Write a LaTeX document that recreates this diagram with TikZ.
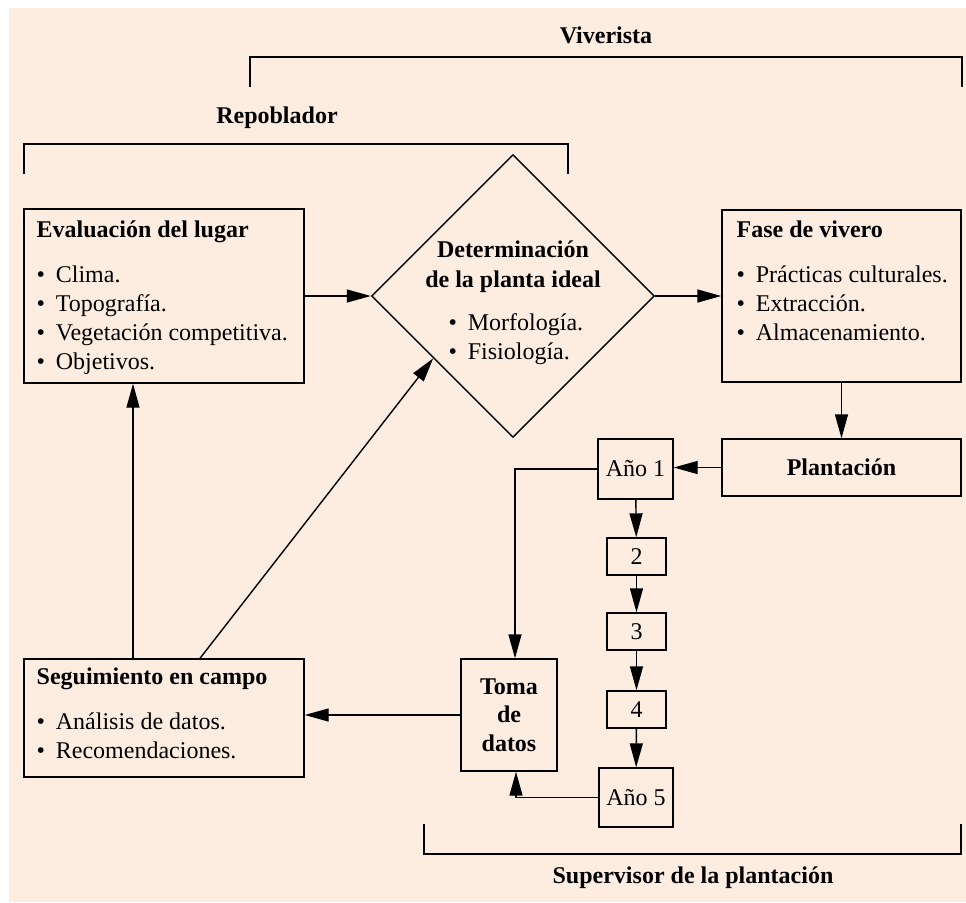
\documentclass[tikz,border=0pt]{standalone}
\usepackage{fontspec}
\setmainfont{Liberation Serif}
\usetikzlibrary{arrows.meta,shapes.geometric}
\definecolor{fondo}{RGB}{253,237,224}
\newcommand{\bul}{\textbullet\hspace{0.45em}}
\tikzset{every node/.style={font=\fontsize{12}{14.5}\selectfont,inner sep=0pt},
  caja/.style={draw,line width=0.7pt},
  flecha/.style={-{Triangle[length=12pt,width=6.5pt]}},
  texto/.style={anchor=base west,align=left},
  titulo/.style={anchor=base,font=\fontsize{12}{14.5}\selectfont\bfseries}}

\begin{document}
\begin{tikzpicture}[x=0.5pt,y=-0.5pt,line width=0.7pt]
  \useasboundingbox (0,0) rectangle (966,902);
  \fill[fondo] (9,8) rectangle (966,902);

  \node[caja,minimum width=140pt,minimum height=87pt] (eval) at (164,296) {};
  \node[caja,shape=diamond,aspect=1,minimum size=141.5pt] (diam) at (513,296) {};
  \node[caja,minimum width=119.5pt,minimum height=86pt] (fase) at (841.5,296) {};
  \node[caja,minimum width=119.5pt,minimum height=28.5pt,font=\fontsize{12}{14.5}\selectfont\bfseries] (plant) at (841.5,467.5) {Plantación};
  \node[caja,minimum width=37.5pt,minimum height=30pt] (a1) at (635.5,469) {Año 1};
  \node[caja,minimum width=29.5pt,minimum height=18.5pt] (a2) at (636.5,556.5) {2};
  \node[caja,minimum width=29.5pt,minimum height=18.5pt] (a3) at (636.5,631.5) {3};
  \node[caja,minimum width=29.5pt,minimum height=18.5pt] (a4) at (636.5,709.5) {4};
  \node[caja,minimum width=37pt,minimum height=29.5pt] (a5) at (636,797.5) {Año 5};
  \node[caja,minimum width=48pt,minimum height=56pt,align=center,font=\fontsize{12}{14.25}\selectfont\bfseries] (toma) at (509,715) {Toma\\de\\datos};
  \node[caja,minimum width=140pt,minimum height=59pt] (seg) at (164,718) {};

  \node[texto] (evaltxt) at (36,369) {\textbf{Evaluación del lugar}\\[8pt]\bul Clima.\\\bul Topografía.\\\bul Vegetación competitiva.\\\bul Objetivos.};
  \node[texto] (fasetxt) at (736,340) {\textbf{Fase de vivero}\\[8pt]\bul Prácticas culturales.\\\bul Extracción.\\\bul Almacenamiento.};
  \node[texto] (segtxt) at (36,758) {\textbf{Seguimiento en campo}\\[8pt]\bul Análisis de datos.\\\bul Recomendaciones.};
  \node[titulo,align=center,font=\fontsize{12}{15}\selectfont\bfseries] (diamtxt) at (513,287) {Determinación\\de la planta ideal};
  \node[texto] (diamlist) at (448,359) {\bul Morfología.\\\bul Fisiología.};

  \node[titulo] (viv) at (606,43) {Viverista};
  \node[titulo] (rep) at (277,123) {Repoblador};
  \node[titulo] (sup) at (693,883) {Supervisor de la plantación};

  \draw (250,87) -- (250,57) -- (962,57) -- (962,87);
  \draw (24,174) -- (24,144) -- (568,144) -- (568,174);
  \draw (424,824) -- (424,854) -- (961,854) -- (961,824);

  \draw[flecha] (eval) -- (diam);
  \draw[flecha] (diam) -- (fase);
  \draw[flecha] (fase) -- (plant);
  \draw[flecha] (plant.west) -- (plant.west -| a1.east);
\foreach \a/\b in {a1/a2,a2/a3,a3/a4,a4/a5}
  \draw[flecha] (\a) -- (\b);
  \draw[flecha] (a1.west) -| ([xshift=3pt]toma.north);
  \draw[flecha] (a5.west) -| ([xshift=3.5pt]toma.south);
  \draw[flecha] (toma.west) -- (toma.west -| seg.east);
  \draw[flecha] ([xshift=-15.5pt]seg.north) -- ([xshift=-15.5pt]eval.south);
  \draw[flecha] ([xshift=18pt]seg.north) -- (diam.218);
\end{tikzpicture}
\end{document}
